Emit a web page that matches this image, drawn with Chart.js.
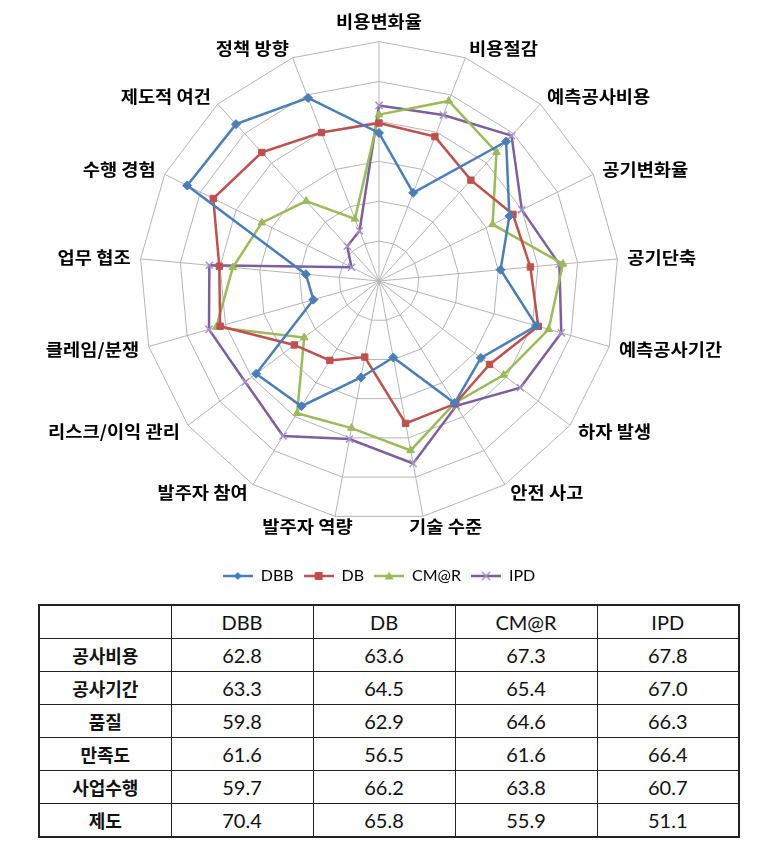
<!DOCTYPE html>
<html>
<head>
<meta charset="utf-8">
<script src="https://cdn.jsdelivr.net/npm/chart.js@4.4.1/dist/chart.umd.min.js"></script>
<style>
  body { margin: 0; background: #fff; width: 758px; height: 842px; overflow: hidden; }
  #wrap { position: absolute; left: 0; top: 0; width: 758px; height: 594px; }
  table { position: absolute; left: 38px; top: 604px; width: 700px; border-collapse: collapse; table-layout: fixed; border: 2px solid #222; }
  td { border: 1px solid #222; height: 32px; padding: 0; text-align: center; font-family: Lato, "Noto Sans CJK KR", sans-serif; font-size: 20px; color: #111; }
  td.rh { font-family: "Noto Sans CJK KR", sans-serif; font-weight: bold; font-size: 18px; }
</style>
</head>
<body>
<div id="wrap"><canvas id="radar"></canvas></div>
<table id="tbl"></table>
<script>
// radar categories, clockwise from top
const categories = ['비용변화율', '비용절감', '예측공사비용', '공기변화율', '공기단축', '예측공사기간',
  '하자 발생', '안전 사고', '기술 수준', '발주자 역량', '발주자 참여', '리스크/이익 관리',
  '클레임/분쟁', '업무 협조', '수행 경험', '제도적 여건', '정책 방향'];

const dbb  = [3.71, 2.37, 4.73, 3.65, 3.06, 4.10, 3.20, 3.60, 1.95, 2.46, 3.69, 3.86, 1.71, 1.84, 5.37, 5.32, 4.92];
const db   = [3.96, 3.88, 3.42, 3.75, 3.81, 4.15, 3.47, 3.62, 3.63, 1.94, 2.34, 2.66, 4.14, 4.02, 4.64, 4.36, 3.99];
const cmar = [4.17, 4.84, 4.37, 3.18, 4.63, 4.42, 3.91, 3.60, 4.32, 3.75, 3.90, 2.35, 4.24, 3.68, 3.28, 2.71, 1.67];
const ipd  = [4.40, 4.46, 4.93, 4.00, 4.54, 4.75, 4.44, 3.68, 4.65, 4.03, 4.57, 4.20, 4.43, 4.27, 0.77, 1.18, 1.35];

// summary table
const tableCols = ['DBB', 'DB', 'CM@R', 'IPD'];
const tableRows = ['공사비용', '공사기간', '품질', '만족도', '사업수행', '제도'];
const tblDBB  = ['62.8', '63.3', '59.8', '61.6', '59.7', '70.4'];
const tblDB   = ['63.6', '64.5', '62.9', '56.5', '66.2', '65.8'];
const tblCMAR = ['67.3', '65.4', '64.6', '61.6', '63.8', '55.9'];
const tblIPD  = ['67.8', '67.0', '66.3', '66.4', '60.7', '51.1'];

const colors = ['#4a7ebb', '#c0504d', '#9bbb59', '#7d5fa0'];
const markers = ['rectRot', 'rect', 'triangle', 'crossRot'];

function legendIcon(i) {
  const c = document.createElement('canvas');
  c.width = 30; c.height = 12;
  const g = c.getContext('2d');
  g.strokeStyle = colors[i];
  g.fillStyle = colors[i];
  g.lineWidth = 2.5;
  g.beginPath(); g.moveTo(0, 6); g.lineTo(30, 6); g.stroke();
  g.beginPath();
  if (i === 0) { g.moveTo(15, 2); g.lineTo(19, 6); g.lineTo(15, 10); g.lineTo(11, 6); g.closePath(); g.fill(); }
  if (i === 1) { g.fillRect(11, 2, 8, 8); }
  if (i === 2) { g.moveTo(15, 1.5); g.lineTo(19.5, 9.5); g.lineTo(10.5, 9.5); g.closePath(); g.fill(); }
  if (i === 3) {
    g.strokeStyle = '#a593c8'; g.lineWidth = 1.5;
    g.moveTo(11, 2); g.lineTo(19, 10); g.moveTo(19, 2); g.lineTo(11, 10); g.stroke();
  }
  return c;
}

function makeSet(label, data, i) {
  return {
    label: label,
    data: data,
    borderColor: colors[i],
    backgroundColor: colors[i],
    borderWidth: 2.5,
    fill: false,
    pointStyle: markers[i],
    pointRadius: i === 3 ? 5 : 4.5,
    pointBorderWidth: i === 3 ? 1.5 : 1,
    pointBorderColor: i === 3 ? '#a593c8' : colors[i],
    pointBackgroundColor: colors[i],
    pointHoverRadius: 5,
  };
}

// category labels placed the way the spreadsheet does it:
// beside the outer vertex, sliding from left- to right-aligned round the circle
const spokeLabels = {
  id: 'spokeLabels',
  afterDraw(chart) {
    const scale = chart.scales.r;
    const ctx = chart.ctx;
    const gap = 10;
    const h = 17;
    const stretch = 1.1; // the original face is a bit wider
    ctx.save();
    ctx.font = 'bold 17px "Noto Sans CJK KR", sans-serif';
    ctx.fillStyle = '#000';
    ctx.textAlign = 'left';
    ctx.textBaseline = 'middle';
    chart.data.labels.forEach(function (text, i) {
      const d = scale.drawingArea + gap;
      const p = scale.getPointPosition(i, d);
      const sx = (p.x - scale.xCenter) / d;
      const sy = (p.y - scale.yCenter) / d;
      const w = ctx.measureText(text).width * stretch;
      let x, y;
      if (Math.abs(sx) < 0.05) {
        x = p.x - w / 2;
        y = p.y + Math.sign(sy) * (h / 2 + 2);
      } else {
        const f = Math.min(1, Math.max(0, 0.5 - 1.55 * sx));
        x = p.x - f * w;
        y = p.y;
      }
      ctx.save();
      ctx.translate(x, y);
      ctx.scale(stretch, 1);
      ctx.fillText(text, 0, 0);
      ctx.restore();
    });
    ctx.restore();
  },
};

const icons = [0, 1, 2, 3].map(legendIcon);

new Chart(document.getElementById('radar'), {
  type: 'radar',
  data: {
    labels: categories,
    datasets: [
      makeSet('DBB', dbb, 0),
      makeSet('DB', db, 1),
      makeSet('CM@R', cmar, 2),
      makeSet('IPD', ipd, 3),
    ],
  },
  plugins: [spokeLabels],
  options: {
    responsive: true,
    maintainAspectRatio: false,
    animation: false,
    elements: { line: { tension: 0 } },
    layout: { padding: { top: 0, left: 0, right: 0, bottom: 0 } },
    scales: {
      r: {
        min: 0,
        max: 6,
        ticks: { display: false, stepSize: 1 },
        grid: { color: '#b4b4b4', lineWidth: 1, circular: false },
        angleLines: { color: '#b4b4b4', lineWidth: 1 },
        // kept for sizing the plot; the visible text comes from spokeLabels
        pointLabels: {
          color: 'rgba(0,0,0,0)',
          padding: 10,
          font: { family: '"Noto Sans CJK KR", sans-serif', size: 16, weight: 'bold', lineHeight: 1.85 },
        },
      },
    },
    plugins: {
      tooltip: { enabled: false },
      legend: {
        position: 'bottom',
        labels: {
          usePointStyle: true,
          pointStyleWidth: 30,
          boxHeight: 12,
          padding: 10,
          color: '#000',
          font: { family: 'Lato, sans-serif', size: 16 },
          generateLabels: function (chart) {
            const items = Chart.defaults.plugins.legend.labels.generateLabels(chart);
            items.forEach(function (it, k) { it.pointStyle = icons[k]; });
            return items;
          },
        },
      },
    },
  },
});

// build the table
const tbl = document.getElementById('tbl');
const cg = document.createElement('colgroup');
[132, 142, 142, 142, 142].forEach(function (w) {
  const col = document.createElement('col');
  col.style.width = w + 'px';
  cg.appendChild(col);
});
tbl.appendChild(cg);
const head = tbl.insertRow();
head.insertCell().textContent = '';
tableCols.forEach(function (c) { head.insertCell().textContent = c; });
const cols = [tblDBB, tblDB, tblCMAR, tblIPD];
tableRows.forEach(function (name, r) {
  const tr = tbl.insertRow();
  const th = tr.insertCell();
  th.className = 'rh';
  th.textContent = name;
  cols.forEach(function (arr) { tr.insertCell().textContent = arr[r]; });
});
</script>
</body>
</html>
